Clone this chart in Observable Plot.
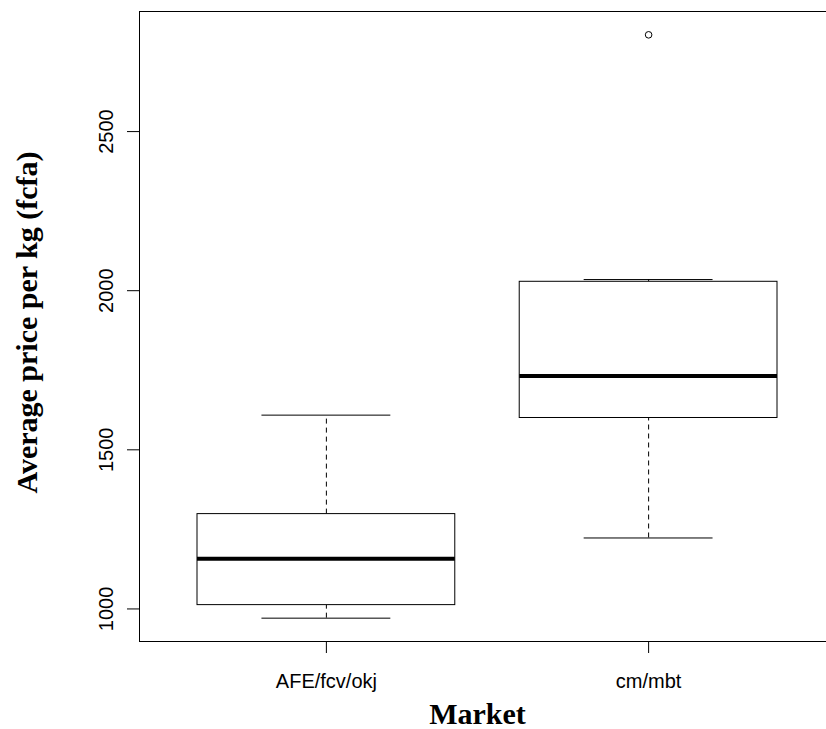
<!DOCTYPE html>
<html>
<head>
<meta charset="utf-8">
<script src="https://cdn.jsdelivr.net/npm/d3@7"></script>
<script src="https://cdn.jsdelivr.net/npm/@observablehq/plot@0.6"></script>
<style>
  html, body { margin: 0; padding: 0; background: white; overflow: hidden; }
  #chart svg { display: block; }
</style>
</head>
<body>
<div id="chart"></div>
<script>
// Box-plot summaries
const categories = ["AFE/fcv/okj", "cm/mbt"];
const lowerWhisker = [971, 1223];
const q1 = [1012, 1600];
const median = [1158, 1732];
const q3 = [1298, 2028];
const upperWhisker = [1609, 2035];
const outliers = [{group: 2, value: 2804}];
const yTicks = [1000, 1500, 2000, 2500];
const xLabel = "Market";
const yLabel = "Average price per kg (fcfa)";

const boxes = categories.map((c, i) => ({
  idx: i + 1, name: c,
  lo: lowerWhisker[i], q1: q1[i], med: median[i], q3: q3[i], hi: upperWhisker[i]
}));

// R-style limits: xlim 0.5..n+0.5, ylim = data range, both padded by 4%
const allVals = [...lowerWhisker, ...upperWhisker, ...outliers.map(d => d.value)];
const yMin = d3.min(allVals), yMax = d3.max(allVals);
const yPad = (yMax - yMin) * 0.04;
const xPad = categories.length * 0.04;

const serif = "'Liberation Serif', 'Times New Roman', serif";
const sans = "'Liberation Sans', Arial, sans-serif";

const chart = Plot.plot({
  width: 826,
  height: 729,
  marginLeft: 139,
  marginRight: -9,
  marginTop: 11,
  marginBottom: 88,
  style: {fontFamily: sans, fontSize: "20px", color: "black", background: "white"},
  x: {type: "linear", domain: [0.5 - xPad, categories.length + 0.5 + xPad]},
  y: {domain: [yMin - yPad, yMax + yPad]},
  marks: [
    Plot.frame({stroke: "black", strokeWidth: 1}),
    // dashed whiskers
    Plot.ruleX(boxes, {x: "idx", y1: "q3", y2: "hi", stroke: "black", strokeDasharray: "5,4"}),
    Plot.ruleX(boxes, {x: "idx", y1: "lo", y2: "q1", stroke: "black", strokeDasharray: "5,4"}),
    // whisker caps
    Plot.ruleY(boxes, {y: "hi", x1: d => d.idx - 0.2, x2: d => d.idx + 0.2, stroke: "black"}),
    Plot.ruleY(boxes, {y: "lo", x1: d => d.idx - 0.2, x2: d => d.idx + 0.2, stroke: "black"}),
    // boxes
    Plot.rect(boxes, {x1: d => d.idx - 0.4, x2: d => d.idx + 0.4, y1: "q1", y2: "q3", fill: "white", stroke: "black", strokeWidth: 1}),
    // medians
    Plot.ruleY(boxes, {y: "med", x1: d => d.idx - 0.4, x2: d => d.idx + 0.4, stroke: "black", strokeWidth: 4}),
    // outliers
    Plot.dot(outliers, {x: "group", y: "value", r: 3.3, stroke: "black", fill: "none", strokeWidth: 1}),
    // axes
    Plot.axisX({ticks: categories.map((c, i) => i + 1), tickFormat: i => categories[i - 1], tickSize: 12, tickPadding: 20, fontSize: 20, label: null}),
    Plot.axisY({ticks: yTicks, tickSize: 12, tickFormat: () => "", label: null}),
    Plot.text(yTicks, {y: d => d, text: d => String(d), frameAnchor: "left", dx: -33, rotate: -90, textAnchor: "middle", lineAnchor: "middle", fontSize: 20}),
    // axis titles
    Plot.text([xLabel], {frameAnchor: "bottom", dy: 82, dx: -10, lineAnchor: "bottom", text: d => d, fontFamily: serif, fontWeight: "bold", fontSize: 30}),
    Plot.text([yLabel], {frameAnchor: "left", dx: -112, dy: -4, rotate: -90, textAnchor: "middle", lineAnchor: "middle", text: d => d, fontFamily: serif, fontWeight: "bold", fontSize: 30})
  ]
});
document.getElementById("chart").append(chart);
</script>
</body>
</html>
